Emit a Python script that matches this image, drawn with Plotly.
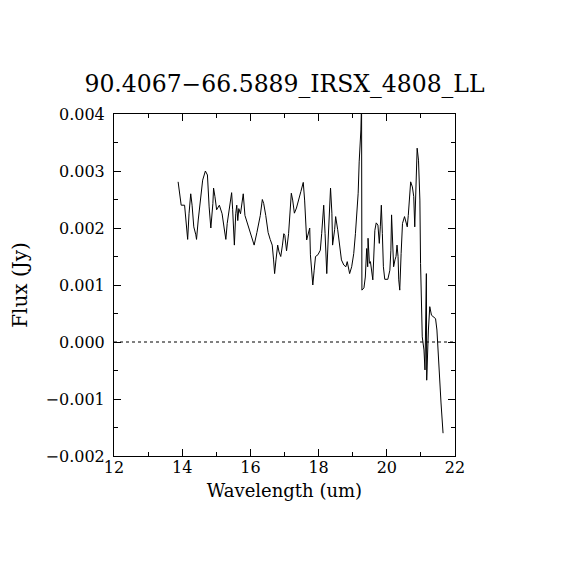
import plotly.graph_objects as go

# spectrum
wavelength = [
    13.88, 13.93, 13.97, 14.07, 14.13, 14.16, 14.20, 14.25, 14.29, 14.34,
    14.40, 14.42, 14.47, 14.54, 14.60, 14.68, 14.74, 14.79, 14.84, 14.90,
    14.92, 14.96, 15.01, 15.09, 15.17, 15.23, 15.28, 15.32, 15.38, 15.45,
    15.48, 15.51, 15.53, 15.57, 15.60, 15.63, 15.66, 15.71, 15.76, 15.79,
    15.84, 15.90, 15.96, 16.02, 16.11, 16.19, 16.29, 16.35, 16.39, 16.45,
    16.52, 16.58, 16.64, 16.68, 16.71, 16.75, 16.80, 16.84, 16.89, 16.94,
    16.98, 17.01, 17.06, 17.12, 17.17, 17.20, 17.24, 17.29, 17.35, 17.42,
    17.48, 17.55, 17.59, 17.65, 17.70, 17.74, 17.76, 17.80, 17.83, 17.87,
    17.91, 17.98, 18.05, 18.09, 18.12, 18.15, 18.19, 18.24, 18.28, 18.32,
    18.35, 18.39, 18.41, 18.47, 18.50, 18.56, 18.62, 18.67, 18.74, 18.80,
    18.84, 18.87, 18.91, 18.97, 19.03, 19.08, 19.16, 19.19, 19.24, 19.26,
    19.27, 19.33, 19.37, 19.41, 19.44, 19.45, 19.49, 19.52, 19.56, 19.59,
    19.65, 19.69, 19.74, 19.78, 19.81, 19.84, 19.87, 19.90, 19.94, 20.03,
    20.09, 20.12, 20.14, 20.17, 20.20, 20.24, 20.27, 20.30, 20.33, 20.35,
    20.38, 20.42, 20.46, 20.52, 20.56, 20.60, 20.63, 20.66, 20.70, 20.75,
    20.79, 20.82, 20.85, 20.87, 20.89, 20.93, 20.97, 20.99, 21.01, 21.04,
    21.09, 21.12, 21.16, 21.17, 21.22, 21.26, 21.31, 21.43, 21.47, 21.51,
    21.55, 21.59, 21.65,
]
flux = [
    0.00281, 0.00261, 0.00240, 0.00240, 0.00194, 0.00180, 0.00225, 0.00260, 0.00240, 0.00202,
    0.00188, 0.00180, 0.00214, 0.00252, 0.00284, 0.00300, 0.00293, 0.00237, 0.00200, 0.00243,
    0.00270, 0.00255, 0.00232, 0.00240, 0.00225, 0.00200, 0.00180, 0.00208, 0.00237, 0.00262,
    0.00232, 0.00188, 0.00170, 0.00225, 0.00240, 0.00213, 0.00234, 0.00225, 0.00245, 0.00260,
    0.00222, 0.00210, 0.00200, 0.00187, 0.00170, 0.00192, 0.00222, 0.00250, 0.00243, 0.00222,
    0.00192, 0.00180, 0.00170, 0.00144, 0.00120, 0.00144, 0.00170, 0.00158, 0.00150, 0.00170,
    0.00190, 0.00187, 0.00160, 0.00190, 0.00229, 0.00261, 0.00249, 0.00226, 0.00235, 0.00249,
    0.00264, 0.00280, 0.00249, 0.00179, 0.00193, 0.00200, 0.00153, 0.00114, 0.00100, 0.00126,
    0.00150, 0.00153, 0.00161, 0.00190, 0.00226, 0.00240, 0.00190, 0.00120, 0.00179, 0.00231,
    0.00270, 0.00226, 0.00170, 0.00197, 0.00220, 0.00197, 0.00168, 0.00144, 0.00135, 0.00132,
    0.00141, 0.00132, 0.00120, 0.00132, 0.00155, 0.00190, 0.00261, 0.00316, 0.00372, 0.00420,
    0.00091, 0.00095, 0.00114, 0.00164, 0.00132, 0.00182, 0.00138, 0.00141, 0.00126, 0.00109,
    0.00196, 0.00209, 0.00205, 0.00173, 0.00202, 0.00240, 0.00190, 0.00132, 0.00110, 0.00110,
    0.00126, 0.00161, 0.00223, 0.00167, 0.00132, 0.00144, 0.00150, 0.00170, 0.00150, 0.00109,
    0.00091, 0.00155, 0.00208, 0.00220, 0.00211, 0.00202, 0.00222, 0.00255, 0.00281, 0.00272,
    0.00255, 0.00202, 0.00266, 0.00313, 0.00340, 0.00319, 0.00249, 0.00138, 0.00062, 0.00009,
    -0.00014, -0.00049, 0.00120, -0.00067, 0.00021, 0.00062, 0.00047, 0.00041, 0.00021, -0.00026,
    -0.00072, -0.00107, -0.00160,
]

x_range = [12, 22]
y_range = [-0.002, 0.004]
x_ticks = [12, 14, 16, 18, 20, 22]
y_ticks = [-0.002, -0.001, 0.0, 0.001, 0.002, 0.003, 0.004]

font = "DejaVu Serif"

fig = go.Figure()
fig.add_trace(go.Scatter(x=wavelength, y=flux, mode="lines",
                         line=dict(color="black", width=1), showlegend=False))

# dotted zero line across the whole plot
fig.add_shape(type="line", xref="paper", yref="y", x0=0, x1=1, y0=0, y1=0,
              line=dict(color="black", width=1, dash="dot"))

axis_common = dict(showline=True, linecolor="black", linewidth=1, mirror="allticks",
                   ticks="inside", ticklen=7, tickcolor="black", tickwidth=1,
                   showgrid=False, zeroline=False,
                   tickfont=dict(family=font, size=16, color="black"))

fig.update_xaxes(range=x_range, tickvals=x_ticks, ticklabelstandoff=-3,
                 minor=dict(ticks="inside", ticklen=4, dtick=1, tickcolor="black", showgrid=False),
                 title=dict(text="Wavelength (um)", font=dict(family=font, size=18, color="black"),
                            standoff=8),
                 **axis_common)
fig.update_yaxes(range=y_range, tickvals=y_ticks, tickformat=".3f", ticklabelstandoff=5,
                 minor=dict(ticks="inside", ticklen=4, dtick=0.0005, tickcolor="black", showgrid=False),
                 title=dict(text="Flux (Jy)", font=dict(family=font, size=20, color="black"),
                            standoff=12),
                 **axis_common)

# page body adds 8px, so margins are shifted to land the frame where the reference has it
fig.update_layout(
    width=570, height=570,
    margin=dict(l=106, r=123, t=106, b=122),
    paper_bgcolor="white", plot_bgcolor="white",
    title=dict(text="90.4067\u221266.5889_IRSX_4808_LL", x=0.5, xref="paper", xanchor="center",
               y=1 - 76 / 570, yanchor="middle", yref="container",
               font=dict(family=font, size=23.5, color="black")),
)

fig.write_html("out.html")
